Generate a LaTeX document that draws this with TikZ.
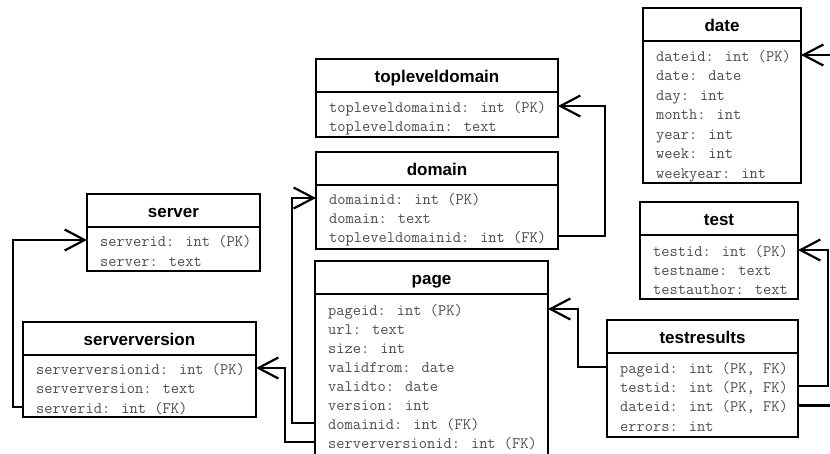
\documentclass[tikz,border=0pt]{standalone}
\usepackage{fontspec}
\usetikzlibrary{arrows.meta}
\newfontfamily\headfont{Liberation Sans}
\tikzset{
  tblhead/.style={draw, line width=2.4pt, fill=white, anchor=north west, inner sep=0pt, outer sep=0pt,
    minimum height=33pt, text height=13pt, text depth=0pt, font=\headfont\bfseries\fontsize{17}{17}\selectfont},
  tblbody/.style={draw, line width=2.4pt, anchor=north west, inner sep=0pt, outer sep=0pt},
  row/.style={anchor=west, inner sep=0pt, text height=12pt, text depth=0pt, text=black!70,
    font=\ttfamily\fontsize{16}{16}\selectfont},
  fk/.style={draw, line width=2.2pt, -{Straight Barb[length=20pt, width=21pt]}}
}

\begin{document}
\begin{tikzpicture}[x=1pt, y=-1pt]
  \path[use as bounding box, fill=white] (0,0) rectangle (830,453);

  \node (date) [tblhead, minimum width=158pt] at (643,8) {date};
  \node (date-b) [tblbody, minimum width=158pt, minimum height=142pt] at (date.south west) {};
  \node (date-dateid) [row] at (656,55) {dateid: int (PK)};
  \node (date-date) [row] at (656,74.5) {date: date};
  \node (date-day) [row] at (656,94) {day: int};
  \node (date-month) [row] at (656,113.5) {month: int};
  \node (date-year) [row] at (656,133) {year: int};
  \node (date-week) [row] at (656,152.5) {week: int};
  \node (date-weekyear) [row] at (656,172) {weekyear: int};

  \node (tld) [tblhead, minimum width=242pt] at (316,59) {topleveldomain};
  \node (tld-b) [tblbody, minimum width=242pt, minimum height=45pt] at (tld.south west) {};
  \node (tld-tldid) [row] at (329,106) {topleveldomainid: int (PK)};
  \node (tld-tld) [row] at (329,125.5) {topleveldomain: text};

  \node (domain) [tblhead, minimum width=242pt] at (316,152) {domain};
  \node (domain-b) [tblbody, minimum width=242pt, minimum height=64pt] at (domain.south west) {};
  \node (domain-domainid) [row] at (329,198) {domainid: int (PK)};
  \node (domain-domain) [row] at (329,217) {domain: text};
  \node (domain-tldid) [row] at (329,236) {topleveldomainid: int (FK)};

  \node (server) [tblhead, minimum width=173pt] at (87,194) {server};
  \node (server-b) [tblbody, minimum width=173pt, minimum height=44pt] at (server.south west) {};
  \node (server-serverid) [row] at (100,240) {serverid: int (PK)};
  \node (server-server) [row] at (100,260) {server: text};

  \node (sv) [tblhead, minimum width=233pt] at (23,322) {serverversion};
  \node (sv-b) [tblbody, minimum width=233pt, minimum height=62pt] at (sv.south west) {};
  \node (sv-svid) [row] at (36,368) {serverversionid: int (PK)};
  \node (sv-sv) [row] at (36,387.5) {serverversion: text};
  \node (sv-serverid) [row] at (36,407) {serverid: int (FK)};

  \node (page) [tblhead, minimum width=233pt] at (315,261) {page};
  \node (page-b) [tblbody, minimum width=233pt, minimum height=162pt] at (page.south west) {};
  \node (page-pageid) [row] at (328,309) {pageid: int (PK)};
  \node (page-url) [row] at (328,328) {url: text};
  \node (page-size) [row] at (328,347) {size: int};
  \node (page-validfrom) [row] at (328,366) {validfrom: date};
  \node (page-validto) [row] at (328,385) {validto: date};
  \node (page-version) [row] at (328,404) {version: int};
  \node (page-domainid) [row] at (328,423) {domainid: int (FK)};
  \node (page-svid) [row] at (328,442) {serverversionid: int (FK)};

  \node (test) [tblhead, minimum width=158pt] at (640,202) {test};
  \node (test-b) [tblbody, minimum width=158pt, minimum height=64pt] at (test.south west) {};
  \node (test-testid) [row] at (653,250) {testid: int (PK)};
  \node (test-testname) [row] at (653,269) {testname: text};
  \node (test-testauthor) [row] at (653,288) {testauthor: text};

  \node (tr) [tblhead, minimum width=191pt] at (607,320) {testresults};
  \node (tr-b) [tblbody, minimum width=191pt, minimum height=84pt] at (tr.south west) {};
  \node (tr-pageid) [row] at (620,367) {pageid: int (PK, FK)};
  \node (tr-testid) [row] at (620,386) {testid: int (PK, FK)};
  \node (tr-dateid) [row] at (620,405.5) {dateid: int (PK, FK)};
  \node (tr-errors) [row] at (620,425) {errors: int};

  \draw [fk] (domain-tldid -| domain-b.east) -- ++(47,0) |- (tld-tldid -| tld-b.east);
  \draw [fk] (page-domainid -| page-b.west) -- ++(-23,0) |- (domain-domainid -| domain-b.west);
  \draw [fk] (page-svid -| page-b.west) -- ++(-30,0) |- (sv-svid -| sv-b.east);
  \draw [fk] (sv-serverid -| sv-b.west) -- ++(-10,0) |- (server-serverid -| server-b.west);
  \draw [fk] (tr-pageid -| tr-b.west) -- ++(-29,0) |- (page-pageid -| page-b.east);
  \draw [fk] (tr-testid -| tr-b.east) -- ++(30,0) |- (test-testid -| test-b.east);
  \draw [fk] (tr-dateid -| tr-b.east) -- ++(45,0) |- (date-dateid -| date-b.east);
\end{tikzpicture}
\end{document}
